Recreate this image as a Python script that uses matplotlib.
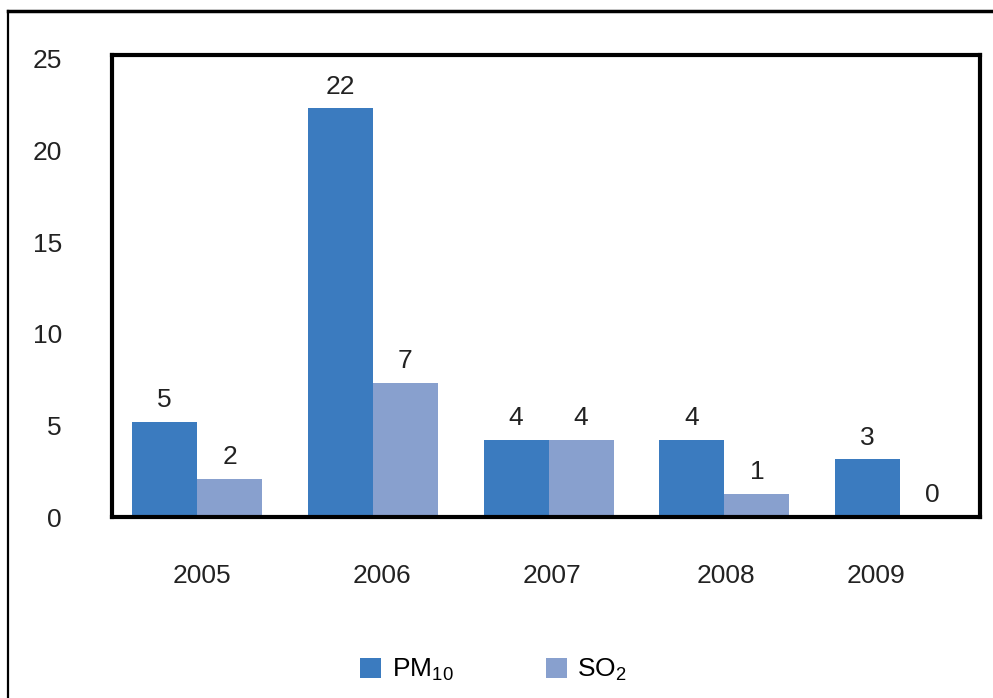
import matplotlib
matplotlib.use("Agg")
import matplotlib.pyplot as plt
import numpy as np
from matplotlib.lines import Line2D

plt.rcParams["font.family"] = ["Liberation Sans", "DejaVu Sans"]
plt.rcParams["mathtext.fontset"] = "custom"
plt.rcParams["mathtext.rm"] = "Liberation Sans"

years = ["2005", "2006", "2007", "2008", "2009"]
pm10 = [5.2, 22.3, 4.2, 4.2, 3.15]
so2 = [2.1, 7.3, 4.2, 1.25, 0.0]
pm10_labels = ["5", "22", "4", "4", "3"]
so2_labels = ["2", "7", "4", "1", "0"]

PM_COLOR = "#3b7bbf"
SO_COLOR = "#88a0ce"

fig = plt.figure(figsize=(9.93, 6.98), dpi=100)
ax = fig.add_axes([0.1128, 0.2593, 0.8742, 0.6617])

x = np.arange(len(years))
w = 0.37
b1 = ax.bar(x - w / 2, pm10, w, color=PM_COLOR, label="PM$_{10}$")
b2 = ax.bar(x + w / 2, so2, w, color=SO_COLOR, label="SO$_2$")

for bars, labels in ((b1, pm10_labels), (b2, so2_labels)):
    for bar, txt in zip(bars, labels):
        ax.annotate(txt, (bar.get_x() + bar.get_width() / 2, bar.get_height()),
                    xytext=(0, 7), textcoords="offset points",
                    ha="center", va="bottom", fontsize=19, color="#222222")

ax.set_xlim(-0.484, 4.455)
ax.set_ylim(0, 25.2)
ax.set_yticks([0, 5, 10, 15, 20, 25])
ax.tick_params(axis="y", length=0, pad=36, labelsize=19, labelcolor="#222222")

# year labels sit a little off the group centres in the original
label_shift = [0.03, 0.05, 0.02, 0.01, -0.14]
ax.set_xticks(x + np.array(label_shift))
ax.set_xticklabels(years)
ax.tick_params(axis="x", length=0, pad=34, labelsize=19, labelcolor="#222222")

for s in ax.spines.values():
    s.set_linewidth(3)
    s.set_color("black")

fig.legend(handles=[b1, b2], loc="center", bbox_to_anchor=(0.497, 0.04),
           ncol=2, frameon=False, fontsize=19, handlelength=0.8,
           handleheight=0.8, handletextpad=0.4, columnspacing=3.5)

# outer frame (top and left edges only, the rest is cropped)
fig.add_artist(Line2D([8 / 993, 1], [1 - 11 / 698] * 2, transform=fig.transFigure,
                      color="black", lw=2.5))
fig.add_artist(Line2D([8 / 993] * 2, [0, 1 - 11 / 698], transform=fig.transFigure,
                      color="black", lw=1.6))

fig.savefig("out.png", dpi=100)
